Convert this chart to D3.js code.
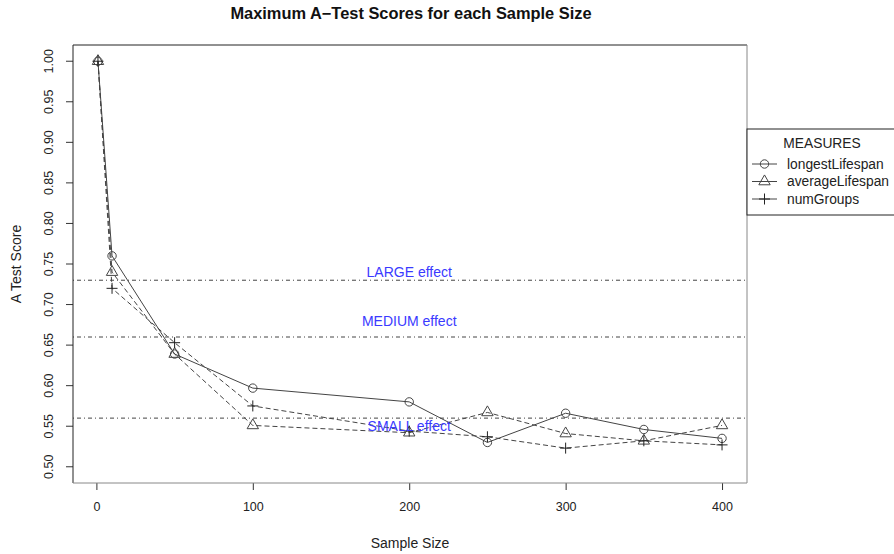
<!DOCTYPE html>
<html>
<head>
<meta charset="utf-8">
<script src="https://cdn.jsdelivr.net/npm/d3@7"></script>
<style>
  html, body { margin: 0; padding: 0; background: #fff; }
  svg { display: block; font-family: "Liberation Sans", Arial, sans-serif; }
</style>
</head>
<body>
<svg id="chart" width="894" height="554"></svg>
<script>
// Sample sizes tested and the maximum A-test score per measure
const sampleSizes = [1, 10, 50, 100, 200, 250, 300, 350, 400];
const longestLifespan = [1.00, 0.760, 0.639, 0.597, 0.580, 0.530, 0.566, 0.546, 0.535];
const averageLifespan = [1.00, 0.740, 0.639, 0.551, 0.542, 0.567, 0.541, 0.532, 0.551];
const numGroups = [1.00, 0.720, 0.653, 0.575, 0.544, 0.537, 0.523, 0.532, 0.527];

// Effect-size thresholds and where their labels sit
const effectNames = ["LARGE effect", "MEDIUM effect", "SMALL effect"];
const effectThresholds = [0.73, 0.66, 0.56];
const effectLabelY = [0.74, 0.68, 0.55];
const effectLabelX = 200;

const xTicks = [0, 100, 200, 300, 400];
const yTicks = [0.50, 0.55, 0.60, 0.65, 0.70, 0.75, 0.80, 0.85, 0.90, 0.95, 1.00];

const seriesNames = ["longestLifespan", "averageLifespan", "numGroups"];
const seriesValues = [longestLifespan, averageLifespan, numGroups];
const seriesMarkers = ["circle", "triangle", "plus"];
const seriesDash = [null, "5 3", "5 3"];

const svg = d3.select("#chart");
const plot = { left: 73, right: 747, top: 45, bottom: 483 };

// R-style 4% padding around the data range
const xPad = (400 - 1) * 0.04;
const x = d3.scaleLinear().domain([1 - xPad, 400 + xPad]).range([plot.left, plot.right]);
const yPad = (1.0 - 0.5) * 0.04;
const y = d3.scaleLinear().domain([0.5 - yPad, 1.0 + yPad]).range([plot.bottom, plot.top]);

const ink = "#333";

// Title
svg.append("text")
  .attr("x", (plot.left + plot.right) / 2 + 1).attr("y", 18.5)
  .attr("text-anchor", "middle").attr("font-weight", "bold")
  .attr("font-size", 16.4).attr("fill", "#111")
  .text("Maximum A\u2212Test Scores for each Sample Size");

// Axes
const xAxis = d3.axisBottom(x).tickValues(xTicks).tickSize(7).tickPadding(12)
  .tickFormat(d3.format("d"));
const gx = svg.append("g").attr("transform", `translate(0,${plot.bottom})`).call(xAxis);
gx.select(".domain").remove();
gx.selectAll("line").attr("stroke", ink);
gx.selectAll("text").attr("font-size", 12.5).attr("fill", "#222")
  .attr("font-family", "Liberation Sans, Arial, sans-serif");

const yAxis = d3.axisLeft(y).tickValues(yTicks).tickSize(7).tickFormat(d3.format(".2f"));
const gy = svg.append("g").attr("transform", `translate(${plot.left},0)`).call(yAxis);
gy.select(".domain").remove();
gy.selectAll("line").attr("stroke", ink);
gy.selectAll("text")
  .attr("font-size", 12.5).attr("fill", "#222")
  .attr("font-family", "Liberation Sans, Arial, sans-serif")
  .attr("x", null).attr("dy", null)
  .attr("text-anchor", "middle")
  .attr("transform", d => `translate(-24,${y(d)}) rotate(-90)`)
  .attr("y", 0).attr("dominant-baseline", "central");
gy.selectAll(".tick").attr("transform", "translate(0,0)");
gy.selectAll(".tick line").attr("y1", d => y(d)).attr("y2", d => y(d));

// Axis titles
svg.append("text")
  .attr("x", (plot.left + plot.right) / 2).attr("y", 548)
  .attr("text-anchor", "middle").attr("font-size", 14).attr("fill", "#222")
  .text("Sample Size");
svg.append("text")
  .attr("transform", `translate(21,${(plot.top + plot.bottom) / 2}) rotate(-90)`)
  .attr("text-anchor", "middle").attr("font-size", 14).attr("fill", "#222")
  .text("A Test Score");

// Effect-size reference lines
const eff = svg.append("g");
effectThresholds.forEach((t) => {
  eff.append("line")
    .attr("x1", plot.left).attr("x2", plot.right)
    .attr("y1", y(t)).attr("y2", y(t))
    .attr("stroke", "#444").attr("stroke-width", 1)
    .attr("stroke-dasharray", "1 3 4 3");
});

// Series
const lineGen = d3.line().x(d => x(d[0])).y(d => y(d[1]));

function drawMarker(g, type, cx, cy) {
  if (type === "circle") {
    g.append("circle").attr("cx", cx).attr("cy", cy).attr("r", 4.2)
      .attr("fill", "none").attr("stroke", "#444").attr("stroke-width", 1);
  } else if (type === "triangle") {
    const sym = d3.symbol().type(d3.symbolTriangle).size(56);
    g.append("path").attr("d", sym())
      .attr("transform", `translate(${cx},${cy})`)
      .attr("fill", "none").attr("stroke", "#444").attr("stroke-width", 1);
  } else {
    g.append("path")
      .attr("d", `M${cx - 5.5},${cy}H${cx + 5.5}M${cx},${cy - 5.5}V${cy + 5.5}`)
      .attr("fill", "none").attr("stroke", "#222").attr("stroke-width", 1);
  }
}

const series = svg.append("g");
seriesValues.forEach((vals, i) => {
  const pts = sampleSizes.map((s, j) => [s, vals[j]]);
  const g = series.append("g");
  g.append("path").attr("d", lineGen(pts))
    .attr("fill", "none").attr("stroke", "#444").attr("stroke-width", 1)
    .attr("stroke-dasharray", seriesDash[i]);
  pts.forEach(p => drawMarker(g, seriesMarkers[i], x(p[0]), y(p[1])));
});

// Effect-size labels
effectNames.forEach((name, i) => {
  svg.append("text")
    .attr("x", x(effectLabelX)).attr("y", y(effectLabelY[i]))
    .attr("text-anchor", "middle").attr("dominant-baseline", "central")
    .attr("font-size", 14).attr("fill", "#3a3aff")
    .text(name);
});

// Plot frame
const frame = svg.append("g").attr("fill", "none").attr("stroke-width", 1);
frame.append("path").attr("d", `M${plot.left},${plot.bottom}V${plot.top}H${plot.right}`).attr("stroke", "#222");
frame.append("path").attr("d", `M${plot.left},${plot.bottom}H${plot.right}V${plot.top}`).attr("stroke", "#888");

// Legend
const leg = svg.append("g");
leg.append("rect").attr("x", plot.right).attr("y", 129).attr("width", 200).attr("height", 86)
  .attr("fill", "#fff").attr("stroke", "#222");
leg.append("text").attr("x", 822).attr("y", 143).attr("text-anchor", "middle")
  .attr("dominant-baseline", "central").attr("font-size", 13.8).attr("fill", "#222")
  .text("MEASURES");
seriesNames.forEach((name, i) => {
  const ly = 164 + i * 17.5;
  leg.append("line").attr("x1", 752).attr("x2", 777).attr("y1", ly).attr("y2", ly)
    .attr("stroke", "#444");
  drawMarker(leg, seriesMarkers[i], 764.5, ly);
  leg.append("text").attr("x", 787).attr("y", ly).attr("dominant-baseline", "central")
    .attr("font-size", 13.8).attr("fill", "#222").text(name);
});
</script>
</body>
</html>
